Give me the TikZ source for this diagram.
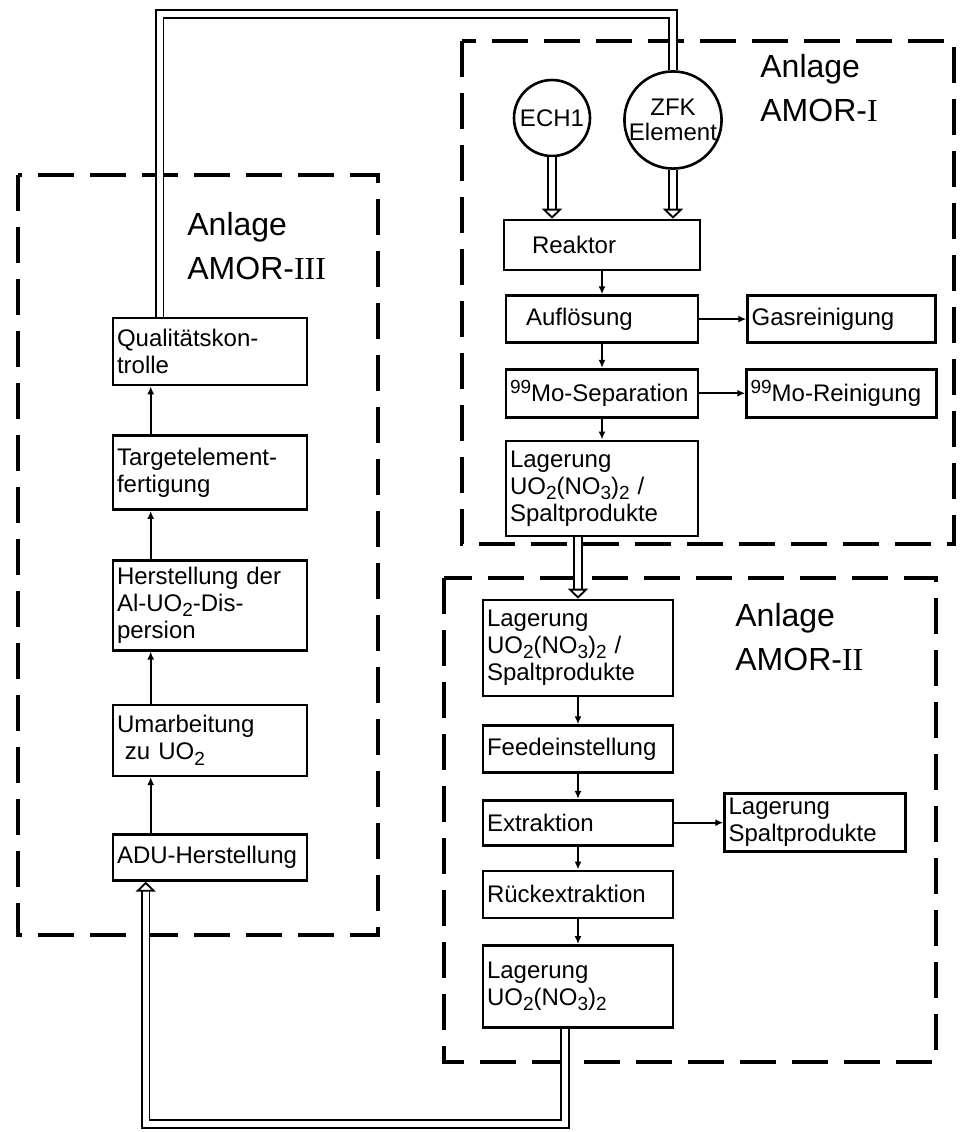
\documentclass[tikz,border=0pt]{standalone}
\usepackage{fontspec}
\setmainfont{Liberation Sans}
\newfontfamily\romfont{Liberation Serif}
\usetikzlibrary{arrows.meta, positioning, calc}
\newcommand{\lowi}[1]{\raisebox{-0.4ex}{\fontsize{9.5}{10}\selectfont#1}}
\newcommand{\highi}[1]{\raisebox{0.6ex}{\fontsize{9.5}{10}\selectfont#1}}

\begin{document}
\begin{tikzpicture}[
    x=1pt, y=-1pt,
    stage/.style={rectangle, draw, line width=1.3pt, align=left,
                  inner xsep=2pt, inner ysep=1pt,
                  font=\fontsize{12}{13.5}\selectfont},
    source/.style={circle, draw, line width=1.3pt, align=center, inner sep=0pt,
                   font=\fontsize{12}{12.5}\selectfont},
    flow/.style={-{Latex[length=4pt, width=3.5pt]}, line width=0.8pt},
    pipe/.style={draw, line width=0.9pt, double distance=2.8pt},
    hollow/.style={-{Triangle[open, width=10pt, length=5pt]}},
    plant/.style={line width=1.8pt, dash pattern=on 18pt off 8pt},
    plantlabel/.style={align=left, inner sep=0pt,
                       font=\fontsize{16}{22}\selectfont}
]
    \useasboundingbox (0,0) rectangle (481,566);

    % dashed plant frames
    \draw[plant] (9,87.5) rectangle (189,467.5);
    \draw[plant] (231,20.5) rectangle (477,272);
    \draw[plant] (222,289) rectangle (468,531);

    \node[plantlabel, anchor=north west] (labI) at (380,27) {Anlage\\AMOR-{\romfont I}};
    \node[plantlabel, anchor=north west] (labII) at (367.5,301.5) {Anlage\\AMOR-{\romfont II}};
    \node[plantlabel, anchor=north west] (labIII) at (93.5,106) {Anlage\\AMOR-{\romfont III}};

    % AMOR-I
    \node[source, minimum size=38pt] (ech) at (276,59) {ECH1};
    \node[source, minimum size=48pt] (zfk) at (336.5,60) {ZFK\\Element};
    \node[stage, text width=94pt, minimum height=25pt] (reaktor) at (301,122.5) {\hspace*{12pt}Reaktor};
    \node[stage, text width=92pt, minimum height=23.5pt, below=11.5pt of reaktor] (aufl) {\hspace*{8pt}Auflösung};
    \node[stage, text width=92pt, minimum height=24pt, below=12pt of aufl] (sep) {\highi{99}Mo-Separation};
    \node[stage, text width=92pt, minimum height=47.5pt, below=10.5pt of sep] (lagA) {Lagerung\\UO\lowi{2}(NO\lowi{3})\lowi{2} /\\Spaltprodukte};
    \node[stage, text width=90pt, minimum height=23.5pt, right=23.5pt of aufl] (gas) {Gasreinigung};
    \node[stage, text width=91pt, minimum height=24pt, right=23pt of sep] (rein) {\highi{99}Mo-Reinigung};

    % AMOR-II
    \node[stage, text width=91pt, minimum height=48pt] (lagB) at (289,324) {Lagerung\\UO\lowi{2}(NO\lowi{3})\lowi{2} /\\Spaltprodukte};
    \node[stage, text width=91pt, minimum height=23.5pt, below=13.5pt of lagB] (feed) {Feedeinstellung};
    \node[stage, text width=91pt, minimum height=22.5pt, below=12.5pt of feed] (extr) {Extraktion};
    \node[stage, text width=91pt, minimum height=23.5pt, below=11.5pt of extr] (rueck) {Rückextraktion};
    \node[stage, text width=91pt, minimum height=41pt, below=12.5pt of rueck] (lagC) {Lagerung\\UO\lowi{2}(NO\lowi{3})\lowi{2}};
    \node[stage, text width=86.5pt, minimum height=29pt, right=24.5pt of extr] (lagS) {Lagerung\\Spaltprodukte};

    % AMOR-III
    \node[stage, text width=93pt, minimum height=33.5pt] (qk) at (105,175.75) {Qualitätskon-\\trolle};
    \node[stage, text width=93pt, minimum height=37pt, below=24pt of qk] (target) {Targetelement-\\fertigung};
    \node[stage, text width=93pt, minimum height=45pt, below=24pt of target] (herst) {Herstellung der\\Al-UO\lowi{2}-Dis-\\persion};
    \node[stage, text width=93pt, minimum height=35.5pt, below=26pt of herst] (umarb) {Umarbeitung\\\hspace*{4pt}zu UO\lowi{2}};
    \node[stage, text width=93pt, minimum height=23pt, below=28pt of umarb] (adu) {\mbox{ADU-Herstellung}};

    % process arrows
    \draw[flow] (reaktor) -- (aufl);
    \draw[flow] (aufl) -- (sep);
    \draw[flow] (sep) -- (lagA);
    \draw[flow] (aufl) -- (gas);
    \draw[flow] (sep) -- (rein);
    \draw[flow] (lagB) -- (feed);
    \draw[flow] (feed) -- (extr);
    \draw[flow] (extr) -- (rueck);
    \draw[flow] (rueck) -- (lagC);
    \draw[flow] (extr) -- (lagS);
    \draw[flow] ([xshift=19.5pt]adu.north west) -- ([xshift=19.5pt]umarb.south west);
    \draw[flow] ([xshift=19.5pt]umarb.north west) -- ([xshift=19.5pt]herst.south west);
    \draw[flow] ([xshift=19.5pt]herst.north west) -- ([xshift=19.5pt]target.south west);
    \draw[flow] ([xshift=19.5pt]target.north west) -- ([xshift=19.5pt]qk.south west);

    % material transport
    \coordinate (top) at (0,7);
    \coordinate (bot) at (0,562);
    \coordinate (qkout) at ([xshift=24pt]qk.north west);
    \coordinate (aduin) at ([xshift=17pt]adu.south west);
    \coordinate (lagout) at ([xshift=-6.5pt]lagC.south);
    \draw[pipe] (qkout) |- (zfk.north |- top) -- (zfk.north);
    \draw[pipe, hollow] (ech) -- (ech |- reaktor.north);
    \draw[pipe, hollow] (zfk) -- (zfk |- reaktor.north);
    \draw[pipe, hollow] (lagA.south -| lagB.north) -- (lagB.north);
    \draw[pipe, hollow] (lagout) |- (aduin |- bot) -- (aduin);
\end{tikzpicture}
\end{document}
